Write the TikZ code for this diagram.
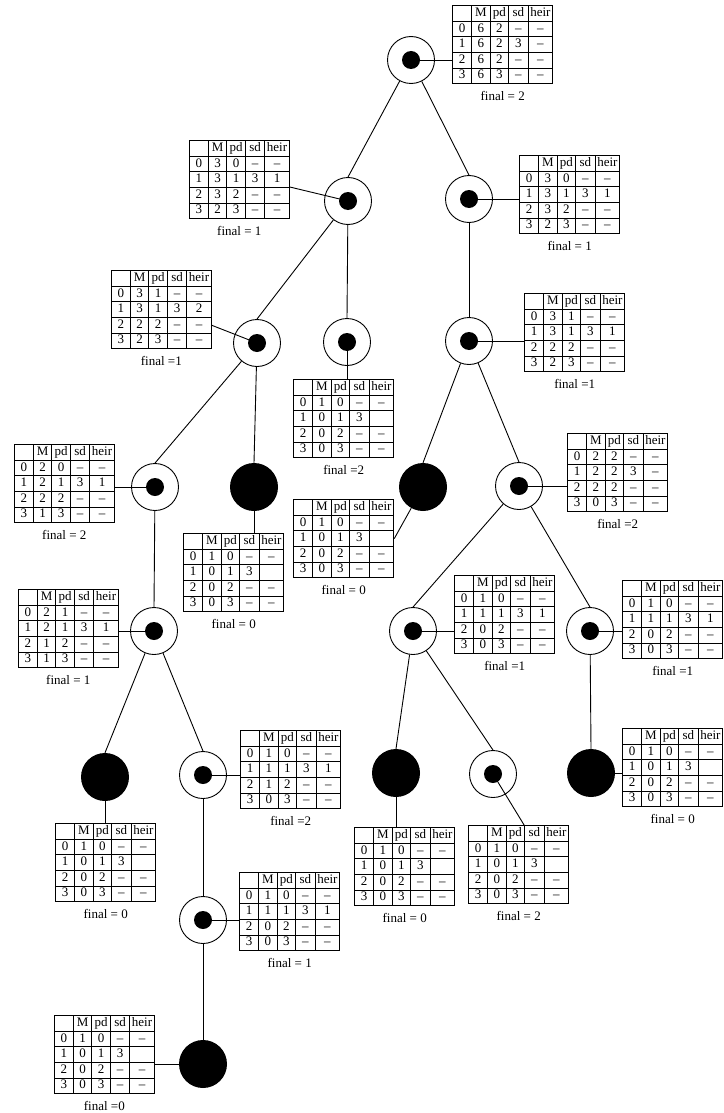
\documentclass[tikz,border=0pt]{standalone}
\usepackage{fontspec}
\setmainfont{Liberation Serif}
\usetikzlibrary{matrix,positioning}

\newcommand{\tfont}{\fontsize{13}{13}\selectfont}
% one state table: name, anchor, position, the four rows
\newcommand{\mtab}[4]{%
  \matrix[tbl, anchor=#2] (#1) at (#3) {
     \& M \& pd \& sd \& heir \\
    #4
  };}

\tikzset{
  opn/.style={circle, draw, line width=0.9pt, minimum size=47pt, inner sep=0pt,
    path picture={\fill (path picture bounding box.center) circle (9pt);}},
  blk/.style={circle, fill, minimum size=48pt, inner sep=0pt},
  tbl/.style={matrix of nodes, nodes in empty cells, ampersand replacement=\&,
    inner sep=0pt, row sep=-1pt, column sep=-1pt,
    nodes={draw, line width=1pt, inner xsep=0pt, inner ysep=1.6pt,
      text height=9.2pt, text depth=3.2pt, anchor=center, font=\tfont},
    column 1/.style={nodes={minimum width=19pt}},
    column 2/.style={nodes={minimum width=18.5pt}},
    column 3/.style={nodes={minimum width=18.5pt}},
    column 4/.style={nodes={minimum width=19.5pt}},
    column 5/.style={nodes={minimum width=24.5pt}}},
  fin/.style={inner sep=0pt, font=\tfont},
  link/.style={line width=0.9pt},
}

\begin{document}
\begin{tikzpicture}[x=1pt, y=-1pt]
  \useasboundingbox (0,0) rectangle (723,1113);

  % tree nodes
  \node[opn] (R) at (411,60) {};
  \node[opn] (A) at (348,201) {};
  \node[opn] (B) at (469,199) {};
  \node[opn] (C) at (257,343) {};
  \node[opn] (D) at (347,342) {};
  \node[opn] (E) at (469,341) {};
  \node[opn] (F) at (155,487) {};
  \node[blk] (G) at (254,487) {};
  \node[blk] (H) at (423,487) {};
  \node[opn] (I) at (519,486) {};
  \node[opn] (J) at (154,631) {};
  \node[opn] (K) at (413,631) {};
  \node[opn] (L) at (590,631) {};
  \node[blk] (M) at (105,777) {};
  \node[opn] (N) at (203,775) {};
  \node[blk] (O) at (396,773) {};
  \node[opn] (P) at (493,774) {};
  \node[blk] (Q) at (591,773) {};
  \node[opn] (R2) at (203,920) {};
  \node[blk] (S) at (203,1064) {};

  % tree edges, each ends on top of the child
  \foreach \a/\b in {R/A, R/B, A/C, A/D, B/E, C/F, C/G, E/H, E/I, F/J, I/K, I/L,
                     J/M, J/N, K/O, K/P, L/Q, N/R2, R2/S}
    \draw[link] (\a) -- (\b.north);

  % tables
  \mtab{tR}{north west}{452,5}{0\&6\&2\&–\&– \\ 1\&6\&2\&3\&– \\ 2\&6\&2\&–\&– \\ 3\&6\&3\&–\&– \\}
  \mtab{tA}{north east}{290,140}{0\&3\&0\&–\&– \\ 1\&3\&1\&3\&1 \\ 2\&3\&2\&–\&– \\ 3\&2\&3\&–\&– \\}
  \mtab{tB}{north west}{519,155}{0\&3\&0\&–\&– \\ 1\&3\&1\&3\&1 \\ 2\&3\&2\&–\&– \\ 3\&2\&3\&–\&– \\}
  \mtab{tC}{north east}{212,270}{0\&3\&1\&–\&– \\ 1\&3\&1\&3\&2 \\ 2\&2\&2\&–\&– \\ 3\&2\&3\&–\&– \\}
  \mtab{tD}{north west}{293,379}{0\&1\&0\&–\&– \\ 1\&0\&1\&3\& \\ 2\&0\&2\&–\&– \\ 3\&0\&3\&–\&– \\}
  \mtab{tE}{north west}{524,293}{0\&3\&1\&–\&– \\ 1\&3\&1\&3\&1 \\ 2\&2\&2\&–\&– \\ 3\&2\&3\&–\&– \\}
  \mtab{tF}{north east}{115,444}{0\&2\&0\&–\&– \\ 1\&2\&1\&3\&1 \\ 2\&2\&2\&–\&– \\ 3\&1\&3\&–\&– \\}
  \mtab{tG}{north west}{183,533}{0\&1\&0\&–\&– \\ 1\&0\&1\&3\& \\ 2\&0\&2\&–\&– \\ 3\&0\&3\&–\&– \\}
  \mtab{tH}{north west}{293,499}{0\&1\&0\&–\&– \\ 1\&0\&1\&3\& \\ 2\&0\&2\&–\&– \\ 3\&0\&3\&–\&– \\}
  \mtab{tI}{north west}{567,433}{0\&2\&2\&–\&– \\ 1\&2\&2\&3\&– \\ 2\&2\&2\&–\&– \\ 3\&0\&3\&–\&– \\}
  \mtab{tJ}{north east}{119,589}{0\&2\&1\&–\&– \\ 1\&2\&1\&3\&1 \\ 2\&1\&2\&–\&– \\ 3\&1\&3\&–\&– \\}
  \mtab{tK}{north west}{454,575}{0\&1\&0\&–\&– \\ 1\&1\&1\&3\&1 \\ 2\&0\&2\&–\&– \\ 3\&0\&3\&–\&– \\}
  \mtab{tL}{north west}{622,580}{0\&1\&0\&–\&– \\ 1\&1\&1\&3\&1 \\ 2\&0\&2\&–\&– \\ 3\&0\&3\&–\&– \\}
  \mtab{tM}{north west}{55,823}{0\&1\&0\&–\&– \\ 1\&0\&1\&3\& \\ 2\&0\&2\&–\&– \\ 3\&0\&3\&–\&– \\}
  \mtab{tN}{north west}{240,730}{0\&1\&0\&–\&– \\ 1\&1\&1\&3\&1 \\ 2\&1\&2\&–\&– \\ 3\&0\&3\&–\&– \\}
  \mtab{tO}{north west}{354,827}{0\&1\&0\&–\&– \\ 1\&0\&1\&3\& \\ 2\&0\&2\&–\&– \\ 3\&0\&3\&–\&– \\}
  \mtab{tP}{north west}{468,825}{0\&1\&0\&–\&– \\ 1\&0\&1\&3\& \\ 2\&0\&2\&–\&– \\ 3\&0\&3\&–\&– \\}
  \mtab{tQ}{north west}{622,728}{0\&1\&0\&–\&– \\ 1\&0\&1\&3\& \\ 2\&0\&2\&–\&– \\ 3\&0\&3\&–\&– \\}
  \mtab{tR2}{north west}{239,872}{0\&1\&0\&–\&– \\ 1\&1\&1\&3\&1 \\ 2\&0\&2\&–\&– \\ 3\&0\&3\&–\&– \\}
  \mtab{tS}{north east}{155,1015}{0\&1\&0\&–\&– \\ 1\&0\&1\&3\& \\ 2\&0\&2\&–\&– \\ 3\&0\&3\&–\&– \\}

  % final values
  \node[fin, below=7pt of tR] (fR) {final = 2};
  \node[fin, below=7pt of tA] (fA) {final = 1};
  \node[fin, below=7pt of tB] (fB) {final = 1};
  \node[fin, below=7pt of tC] (fC) {final =1};
  \node[fin, below=7pt of tD] (fD) {final =2};
  \node[fin, below=7pt of tE] (fE) {final =1};
  \node[fin, below=7pt of tF] (fF) {final = 2};
  \node[fin, below=7pt of tG] (fG) {final = 0};
  \node[fin, below=7pt of tH] (fH) {final = 0};
  \node[fin, below=7pt of tI] (fI) {final =2};
  \node[fin, below=7pt of tJ] (fJ) {final = 1};
  \node[fin, below=7pt of tK] (fK) {final =1};
  \node[fin, below=7pt of tL] (fL) {final =1};
  \node[fin, below=7pt of tM] (fM) {final = 0};
  \node[fin, below=7pt of tN] (fN) {final =2};
  \node[fin, below=7pt of tO] (fO) {final = 0};
  \node[fin, below=7pt of tP] (fP) {final = 2};
  \node[fin, below=7pt of tQ] (fQ) {final = 0};
  \node[fin, below=7pt of tR2] (fR2) {final = 1};
  \node[fin, below=7pt of tS] (fS) {final =0};

  % node to table
  \foreach \n in {R, B, E, I, K, L, N, Q, R2}
    \draw[link] (\n.center) -- (\n.center -| t\n.west);
  \foreach \n in {F, J, S}
    \draw[link] (\n.center) -- (\n.center -| t\n.east);
  \foreach \n in {D, G, M, O}
    \draw[link] (\n.center) -- (\n.center |- t\n.north);
  \draw[link] (A.center) -- (tA-4-5.north east);
  \draw[link] (C.center) -- (tC-4-5.east);
  \draw[link] (H) -- (tH-3-5.east);
  \draw[link] (P.center) -- (tP-1-4.north west);
\end{tikzpicture}
\end{document}
